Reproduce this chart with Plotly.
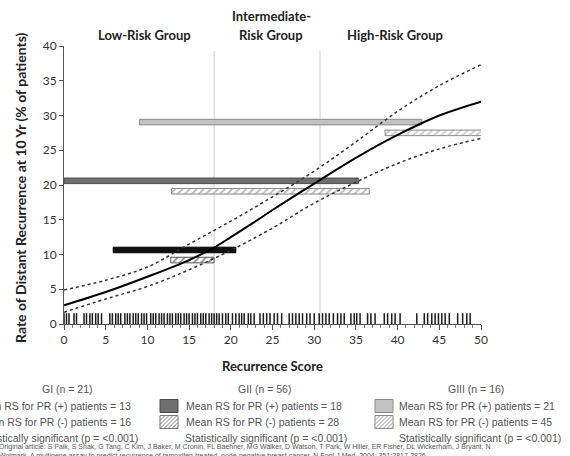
import plotly.graph_objects as go

# ---------------- data ----------------
rs_grid = [0, 5, 10, 15, 18, 20, 23, 25, 30, 35, 40, 45, 50]
risk_mid = [2.7, 4.6, 6.8, 9.2, 11.0, 12.5, 14.8, 16.4, 20.2, 23.9, 27.2, 30.0, 32.0]
ci_grid = [0, 5, 10, 15, 20, 25, 30, 35, 40, 45, 50]
ci_upper = [4.9, 6.3, 8.2, 11.5, 14.8, 18.3, 22.0, 26.2, 30.6, 34.3, 37.3]
ci_lower = [1.7, 3.6, 5.4, 7.8, 10.6, 13.8, 17.4, 20.4, 23.1, 25.2, 26.7]

bar_names = ["GI PR+", "GI PR-", "GII PR+", "GII PR-", "GIII PR+", "GIII PR-"]
bar_start = [5.9, 12.8, 0.0, 12.9, 9.05, 38.5]
bar_end = [20.6, 18.0, 35.3, 36.6, 42.9, 50.5]
bar_rate = [10.65, 9.2, 20.6, 19.1, 29.05, 27.5]

cutoffs = [18, 30.7]

rug_scores = [0, 0.3, 0.6, 1.2, 1.5, 2.4, 2.7, 3.1, 3.4, 3.8, 4.1, 4.5, 5.5, 5.8,
              6.2, 6.5, 6.8, 7.3, 7.6, 7.9, 8.3, 8.6, 8.9, 9.3, 9.6, 9.9, 10.4,
              10.7, 11.0, 11.4, 11.7, 12.0, 12.4, 12.7, 13.0, 13.4, 13.7, 14.0,
              14.4, 14.7, 15.0, 15.4, 15.7, 16.0, 16.4, 16.7, 17.0, 17.4, 17.7,
              18.0, 18.3, 18.6, 19.0, 19.4, 19.7, 20.2, 20.6, 21.0, 21.3, 21.6,
              22.1, 22.4, 22.8, 23.5, 23.9, 24.3, 24.7, 25.2, 25.6, 26.1, 27.0,
              27.4, 27.8, 28.2, 28.6, 29.1, 29.5, 30.0, 30.6, 31.0, 31.4, 31.8,
              32.3, 32.8, 33.2, 33.6, 34.4, 34.8, 35.1, 35.5, 36.4, 36.8, 37.3,
              38.4, 38.8, 39.3, 39.7, 40.3, 42.3, 43.2, 43.6, 44.1, 44.5, 44.9,
              45.3, 45.7, 46.2, 47.2, 47.8, 48.3, 48.7]

x_ticks = [0, 5, 10, 15, 20, 25, 30, 35, 40, 45, 50]
y_ticks = [0, 5, 10, 15, 20, 25, 30, 35, 40]

group_headers = ["GI (n = 21)", "GII (n = 56)", "GIII (n = 16)"]
pos_labels = ["Mean RS for PR (+) patients = 13", "Mean RS for PR (+) patients = 18",
              "Mean RS for PR (+) patients = 21"]
neg_labels = ["Mean RS for PR (-) patients = 16", "Mean RS for PR (-) patients = 28",
              "Mean RS for PR (-) patients = 45"]
sig_label = "Statistically significant (p = <0.001)"
citation1 = ("Original article: S Paik, S Shak, G Tang, C Kim, J Baker, M Cronin, FL Baehner, "
             "MG Walker, D Watson, T Park, W Hiller, ER Fisher, DL Wickerham, J Bryant, N")
citation2 = ("Wolmark. A multigene assay to predict recurrence of tamoxifen-treated, "
             "node-negative breast cancer. N Engl J Med. 2004; 351:2817-2826.")

# ---------------- styles ----------------
W, H = 570, 456
L, R, T, B = 64, 481, 46, 324


def px(xp):
    return (xp - L) / (R - L)


def py(yp):
    return (B - yp) / (B - T)


bar_styles = [
    dict(color="#111111", line="#000000", pattern=None),
    dict(color="white", line="#555555", pattern=dict(shape="/", fgcolor="#222222", bgcolor="white", size=5, solidity=0.35)),
    dict(color="#6e6e6e", line="#4a4a4a", pattern=None),
    dict(color="white", line="#888888", pattern=dict(shape="/", fgcolor="#777777", bgcolor="white", size=5, solidity=0.35)),
    dict(color="#c2c2c2", line="#8a8a8a", pattern=None),
    dict(color="white", line="#8a8a8a", pattern=dict(shape="/", fgcolor="#999999", bgcolor="white", size=5, solidity=0.35)),
]

fig = go.Figure()

for i, name in enumerate(bar_names):
    st = bar_styles[i]
    marker = dict(color=st["color"], line=dict(color=st["line"], width=1))
    if st["pattern"]:
        marker["pattern"] = st["pattern"]
    fig.add_trace(go.Bar(
        y=[bar_rate[i]], x=[bar_end[i] - bar_start[i]], base=[bar_start[i]],
        orientation="h", width=0.8, marker=marker, name=name, showlegend=False,
        hoverinfo="skip"))

fig.add_trace(go.Scatter(x=rug_scores, y=[0.75] * len(rug_scores), mode="markers",
                         marker=dict(symbol="line-ns", size=8, line=dict(color="#1a1a1a", width=1.5)),
                         showlegend=False, hoverinfo="skip"))

fig.add_trace(go.Scatter(x=ci_grid, y=ci_upper, mode="lines", line=dict(color="#333333", width=1.5, dash="dot", shape="spline"),
                         showlegend=False))
fig.add_trace(go.Scatter(x=ci_grid, y=ci_lower, mode="lines", line=dict(color="#333333", width=1.5, dash="dot", shape="spline"),
                         showlegend=False))
fig.add_trace(go.Scatter(x=rs_grid, y=risk_mid, mode="lines", line=dict(color="#000000", width=2, shape="spline"),
                         showlegend=False))

shapes = []
for c in cutoffs:
    shapes.append(dict(type="line", xref="x", yref="y", x0=c, x1=c, y0=0, y1=39.3,
                       line=dict(color="#d0d0d0", width=1), layer="below"))

annotations = []


def ann(text, x, y, font, xanchor="center", yanchor="middle", angle=0):
    annotations.append(dict(text=text, x=px(x), y=py(y), xref="paper", yref="paper",
                            showarrow=False, xanchor=xanchor, yanchor=yanchor, font=font,
                            textangle=angle))


bold = dict(family="Lato", size=13, color="#222222", weight="bold")
ann("Low-Risk Group", 144.5, 34.5, bold)
ann("Intermediate-", 271, 16, bold)
ann("Risk Group", 271, 35, bold)
ann("High-Risk Group", 395, 34.5, bold)
ann("Recurrence Score", 272, 365.5, bold)
ann("Rate of Distant Recurrence at 10 Yr (% of patients)", 21, 188,
    dict(family="Lato", size=14, color="#222222", weight="bold"), angle=-90)

leg_font = dict(family="Liberation Sans", size=10.5, color="#555555")
header_x = [67, 264, 476]
for i, h in enumerate(group_headers):
    ann(h, header_x[i], 389, leg_font)

# column 1 (partly cut off at left edge, as in the original)
ann(pos_labels[0], 133, 406, leg_font, xanchor="right")
ann(neg_labels[0], 133, 422, leg_font, xanchor="right")
ann(sig_label, 140, 438, leg_font, xanchor="right")
# column 2
ann(pos_labels[1], 184, 406, leg_font, xanchor="left")
ann(neg_labels[1], 184, 422, leg_font, xanchor="left")
ann(sig_label, 266, 438, leg_font)
# column 3
ann(pos_labels[2], 397, 406, leg_font, xanchor="left")
ann(neg_labels[2], 397, 422, leg_font, xanchor="left")
ann(sig_label, 480, 438, leg_font)

cit_font = dict(family="Liberation Sans", size=7, color="#555555")
ann(citation1, -3, 447, cit_font, xanchor="left")
ann(citation2, -3, 456, cit_font, xanchor="left")


def legend_box(x0, yc, fill, line, hatch=None):
    x1 = x0 + 18
    y0, y1 = yc - 6.5, yc + 6.5
    shapes.append(dict(type="rect", xref="paper", yref="paper", x0=px(x0), x1=px(x1),
                       y0=py(y1), y1=py(y0), fillcolor=fill, line=dict(color=line, width=1)))
    if hatch:
        for k in range(-12, 18, 4):
            xa, ya = x0 + k, y1
            xb, yb = x0 + k + 13, y0
            if xa < x0:
                ya = y1 - (x0 - xa)
                xa = x0
            if xb > x1:
                yb = y0 + (xb - x1)
                xb = x1
            if xa >= xb:
                continue
            shapes.append(dict(type="line", xref="paper", yref="paper", x0=px(xa), x1=px(xb),
                               y0=py(ya), y1=py(yb), line=dict(color=hatch, width=1)))


legend_box(160, 406, "#6e6e6e", "#4a4a4a")
legend_box(160, 422, "white", "#777777", hatch="#777777")
legend_box(375, 406, "#c2c2c2", "#8a8a8a")
legend_box(375, 422, "white", "#8a8a8a", hatch="#999999")

axis_common = dict(showline=True, linecolor="#555555", linewidth=1, ticks="outside",
                   tickcolor="#555555", showgrid=False, zeroline=False,
                   tickfont=dict(family="Lato", size=12, color="#333333"))

fig.update_layout(
    width=W, height=H, margin=dict(l=L, r=W - R, t=T, b=H - B),
    paper_bgcolor="white", plot_bgcolor="white", barmode="overlay",
    xaxis=dict(range=[0, 50], tickvals=x_ticks, ticklen=5,
               minor=dict(dtick=1, ticklen=3, ticks="outside", tickcolor="#777777"),
               **axis_common),
    yaxis=dict(range=[0, 40], tickvals=y_ticks, ticklen=4, **axis_common),
    shapes=shapes, annotations=annotations, showlegend=False,
)

fig.write_html("out.html")
